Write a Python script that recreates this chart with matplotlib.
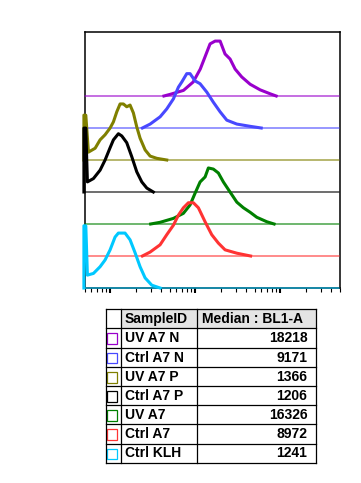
import matplotlib
matplotlib.use('Agg')
import matplotlib.pyplot as plt
from matplotlib.patches import Rectangle
from matplotlib.ticker import LogLocator, NullFormatter

plt.rcParams['font.family'] = ['Liberation Sans', 'DejaVu Sans']

# samples, top to bottom in the overlay
samples = ['UV A7 N', 'Ctrl A7 N', 'UV A7 P', 'Ctrl A7 P', 'UV A7', 'Ctrl A7', 'Ctrl KLH']
medians = [18218, 9171, 1366, 1206, 16326, 8972, 1241]
colors = ['#9900CC', '#4848FF', '#808000', '#000000', '#008000', '#FF3333', '#00C8FF']

# histograms: BL1-A intensity and % of mode (flat parts are the baselines)
uv_a7_n_x = [4300, 5100, 7300, 9500, 11500, 13100, 15000, 17200, 19700, 22500, 25800, 29600, 35400, 44400, 58200, 76200, 90000]
uv_a7_n_h = [0, 3, 10, 25, 48, 70, 93, 98, 98, 75, 66, 48, 34, 21, 11, 4, 0]

ctrl_a7_n_x = [2400, 2960, 3880, 4640, 5560, 6370, 6970, 7980, 8730, 10000, 11450, 13740, 16400, 19670, 23600, 30970, 44370, 60000]
ctrl_a7_n_h = [0, 7, 20, 34, 52, 73, 82, 97, 97, 84, 79, 64, 46, 29, 14, 7, 3, 0]

uv_a7_p_x = [492, 492, 518, 556, 667, 763, 873, 1000, 1094, 1199, 1311, 1433, 1570, 1718, 1880, 2060, 2253, 2583, 2957, 3540, 4640]
uv_a7_p_h = [0, 80, 80, 14, 21, 36, 45, 57, 68, 86, 100, 100, 95, 98, 84, 59, 39, 18, 7, 3, 0]

ctrl_a7_p_x = [492, 492, 518, 541, 637, 763, 873, 1000, 1094, 1252, 1373, 1570, 1799, 2060, 2360, 2705, 3226]
ctrl_a7_p_h = [0, 114, 114, 18, 24, 39, 57, 79, 93, 104, 100, 88, 63, 36, 18, 7, 0]

uv_a7_x = [3000, 3875, 5560, 7280, 8730, 10000, 11450, 13120, 14330, 16400, 18790, 21520, 25800, 30970, 36980, 44370, 53200, 69860, 85000]
uv_a7_h = [0, 3, 10, 19, 34, 55, 75, 84, 100, 98, 91, 75, 57, 39, 29, 21, 12, 4, 0]

ctrl_a7_x = [2400, 2957, 3875, 4643, 5560, 6370, 7280, 8340, 9550, 10940, 13120, 15700, 18790, 22530, 30970, 45000]
ctrl_a7_h = [0, 7, 20, 38, 55, 73, 86, 95, 95, 86, 61, 38, 23, 11, 5, 0]

ctrl_klh_x = [492, 492, 518, 541, 637, 763, 873, 1000, 1145, 1252, 1500, 1718, 1967, 2253, 2583, 3097, 3875]
ctrl_klh_h = [0, 111, 111, 23, 26, 38, 50, 68, 91, 98, 98, 86, 63, 38, 18, 5, 0]

xs = [uv_a7_n_x, ctrl_a7_n_x, uv_a7_p_x, ctrl_a7_p_x, uv_a7_x, ctrl_a7_x, ctrl_klh_x]
hs = [uv_a7_n_h, ctrl_a7_n_h, uv_a7_p_h, ctrl_a7_p_h, uv_a7_h, ctrl_a7_h, ctrl_klh_h]

STEP = 57.1  # vertical offset between stacked histograms (% of mode)

fig = plt.figure(figsize=(3.61, 4.83), dpi=100)
ax = fig.add_axes([84.5 / 361, 195 / 483, 255 / 361, 256 / 483])

n = len(samples)
for i in range(n):
    off = (n - 1 - i) * STEP
    ax.plot([500, 500000], [off, off], color=colors[i], lw=0.8, clip_on=False,
            solid_capstyle='butt', snap=False, zorder=3)
    ax.plot(xs[i], [off + v for v in hs[i]], color=colors[i], lw=2.2, clip_on=False,
            snap=False, zorder=3)

ax.set_xscale('log')
ax.set_xlim(500, 500000)
ax.set_ylim(0, 8 * STEP)
ax.set_yticks([])
ax.xaxis.set_minor_locator(LogLocator(base=10, subs=range(2, 10)))
ax.xaxis.set_minor_formatter(NullFormatter())
ax.tick_params(axis='x', which='major', direction='out', length=3.8, width=1.5, labelbottom=False)
ax.tick_params(axis='x', which='minor', direction='out', length=2.6, width=0.8, labelbottom=False)
for s in ax.spines.values():
    s.set_linewidth(1.1)

# stats table under the plot
tax = fig.add_axes([105.7 / 361, 20.3 / 483, 210 / 361, 153.4 / 483])
tax.set_xlim(0, 1)
tax.set_ylim(8, 0)
tax.axis('off')
c1 = 0.0714
c2 = 0.436
tax.add_patch(Rectangle((c1, 0), 1 - c1, 1, facecolor='#e4e4e4', edgecolor='none'))
for r in range(9):
    tax.plot([0, 1], [r, r], color='black', lw=0.9, clip_on=False)
for c in [0, c1, c2, 1]:
    tax.plot([c, c], [0, 8], color='black', lw=0.9, clip_on=False)

tax.text(0.092, 0.52, 'SampleID', ha='left', va='center', fontsize=10, fontweight='bold')
tax.text(0.457, 0.52, 'Median : BL1-A', ha='left', va='center', fontsize=10, fontweight='bold')
for i in range(n):
    r = i + 1
    tax.add_patch(Rectangle((0.0076, r + 0.26), 0.0445, 0.56, facecolor='white', edgecolor=colors[i], lw=0.9))
    tax.text(0.092, r + 0.52, samples[i], ha='left', va='center', fontsize=10, fontweight='bold')
    tax.text(0.96, r + 0.52, str(medians[i]), ha='right', va='center', fontsize=10, fontweight='bold')

fig.savefig('out.png', dpi=100)
